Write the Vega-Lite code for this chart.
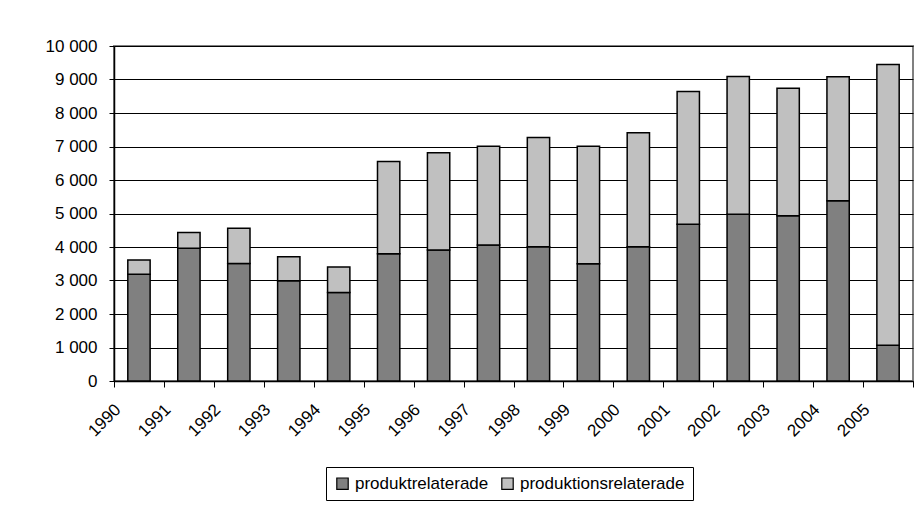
{
  "$schema": "https://vega.github.io/schema/vega-lite/v6.json",
  "width": 799,
  "height": 335,
  "autosize": {"type": "none"},
  "padding": {"left": 114, "top": 46, "right": 6, "bottom": 125},
  "background": "white",
  "data": {"values": [
    {"year": "1990", "typ": "produktrelaterade", "value": 3190},
    {"year": "1990", "typ": "produktionsrelaterade", "value": 420},
    {"year": "1991", "typ": "produktrelaterade", "value": 3960},
    {"year": "1991", "typ": "produktionsrelaterade", "value": 470},
    {"year": "1992", "typ": "produktrelaterade", "value": 3510},
    {"year": "1992", "typ": "produktionsrelaterade", "value": 1050},
    {"year": "1993", "typ": "produktrelaterade", "value": 2990},
    {"year": "1993", "typ": "produktionsrelaterade", "value": 720},
    {"year": "1994", "typ": "produktrelaterade", "value": 2640},
    {"year": "1994", "typ": "produktionsrelaterade", "value": 760},
    {"year": "1995", "typ": "produktrelaterade", "value": 3800},
    {"year": "1995", "typ": "produktionsrelaterade", "value": 2750},
    {"year": "1996", "typ": "produktrelaterade", "value": 3910},
    {"year": "1996", "typ": "produktionsrelaterade", "value": 2900},
    {"year": "1997", "typ": "produktrelaterade", "value": 4060},
    {"year": "1997", "typ": "produktionsrelaterade", "value": 2950},
    {"year": "1998", "typ": "produktrelaterade", "value": 4010},
    {"year": "1998", "typ": "produktionsrelaterade", "value": 3260},
    {"year": "1999", "typ": "produktrelaterade", "value": 3500},
    {"year": "1999", "typ": "produktionsrelaterade", "value": 3510},
    {"year": "2000", "typ": "produktrelaterade", "value": 4010},
    {"year": "2000", "typ": "produktionsrelaterade", "value": 3400},
    {"year": "2001", "typ": "produktrelaterade", "value": 4680},
    {"year": "2001", "typ": "produktionsrelaterade", "value": 3960},
    {"year": "2002", "typ": "produktrelaterade", "value": 4980},
    {"year": "2002", "typ": "produktionsrelaterade", "value": 4110},
    {"year": "2003", "typ": "produktrelaterade", "value": 4930},
    {"year": "2003", "typ": "produktionsrelaterade", "value": 3810},
    {"year": "2004", "typ": "produktrelaterade", "value": 5380},
    {"year": "2004", "typ": "produktionsrelaterade", "value": 3700},
    {"year": "2005", "typ": "produktrelaterade", "value": 1070},
    {"year": "2005", "typ": "produktionsrelaterade", "value": 8380}
  ]},
  "mark": {"type": "bar", "stroke": "black", "strokeWidth": 1.5, "width": {"band": 0.447}},
  "encoding": {
    "x": {
      "field": "year", "type": "ordinal",
      "scale": {"paddingInner": 0, "paddingOuter": 0},
      "axis": {
        "title": null, "labelAngle": -45, "labelAlign": "right", "labelBaseline": "top",
        "labelOffset": -27, "labelPadding": 14, "tickBand": "extent", "tickSize": 6,
        "labelFontSize": 17,
        "grid": false, "domainColor": "black", "tickColor": "black", "domainWidth": 1.5
      }
    },
    "y": {
      "field": "value", "type": "quantitative", "aggregate": "sum", "stack": "zero",
      "scale": {"domain": [0, 10000], "nice": false},
      "axis": {
        "title": null, "values": [0,1000,2000,3000,4000,5000,6000,7000,8000,9000,10000],
        "labelExpr": "replace(format(datum.value, ','), ',', ' ')",
        "tickSize": 5, "labelPadding": 12, "grid": true, "gridColor": "black", "gridOpacity": 1, "gridWidth": 1,
        "domainColor": "black", "tickColor": "black", "domainWidth": 1.5
      }
    },
    "color": {
      "field": "typ", "type": "nominal",
      "scale": {"domain": ["produktrelaterade", "produktionsrelaterade"], "range": ["#808080", "#c0c0c0"]},
      "legend": {
        "title": null, "orient": "none", "legendX": 212, "legendY": 421, "direction": "horizontal",
        "symbolType": "square", "symbolSize": 130, "symbolStrokeColor": "black", "symbolStrokeWidth": 1.2,
        "symbolOpacity": 1, "symbolFillColor": null,
        "labelFontSize": 17, "labelFont": "Liberation Sans", "labelColor": "black", "labelLimit": 400,
        "columnPadding": 10, "symbolOffset": 0, "labelOffset": 4,
        "strokeColor": "black", "fillColor": "white", "padding": 8
      }
    },
    "order": {"field": "typ", "sort": "descending"}
  },
  "config": {
    "view": {"stroke": "#808080", "strokeWidth": 2},
    "axis": {"labelFont": "Liberation Sans", "labelFontSize": 17, "labelColor": "black"}
  }
}
